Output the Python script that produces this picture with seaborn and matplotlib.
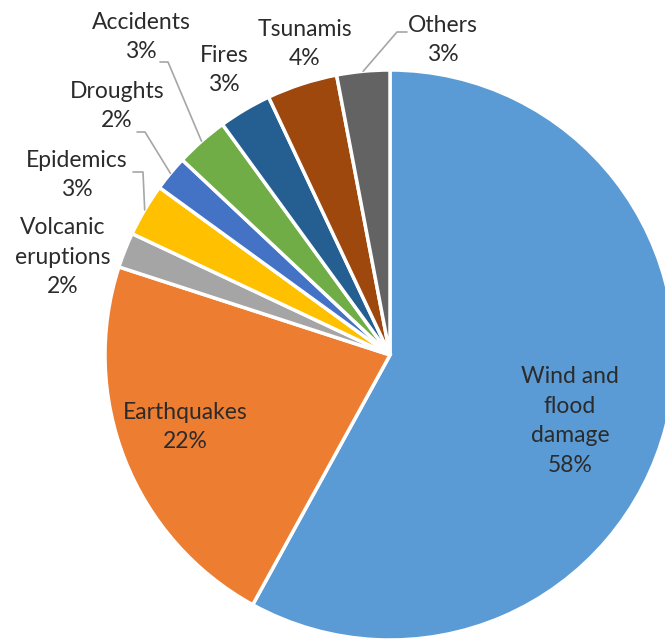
import numpy as np
import matplotlib
matplotlib.use("Agg")
import matplotlib.pyplot as plt
import seaborn as sns

# --- dados ---
categorias = ['Wind and\nflood\ndamage', 'Earthquakes', 'Volcanic\neruptions', 'Epidemics',
              'Droughts', 'Accidents', 'Fires', 'Tsunamis', 'Others']
valores = [58, 22, 2, 3, 2, 3, 3, 4, 3]
cores = ['#5B9BD5', '#ED7D31', '#A5A5A5', '#FFC000', '#4472C4',
         '#70AD47', '#255E91', '#9E480E', '#636363']

# --- layout (pixels da imagem, y para baixo) ---
W, H = 665, 640
cx, cy, R = 390, 355, 285
pos_rotulos = [(570, 421), (185, 427), (63, 257), (77, 175), (117, 106),
               (141, 37), (224, 70), (305, 44), (443, 40)]
# cotovelo das linhas guia (None = sem linha)
cotovelos = [None, None, None, [(143, 172), (133, 172)], [(145, 132), (137, 132)],
             [(168, 62), (160, 62)], None, None, [(397, 32), (407, 32)]]

sns.set_theme(style='white')
plt.rcParams['font.family'] = ['Lato', 'DejaVu Sans']

fig = plt.figure(figsize=(W / 100, H / 100), dpi=100)
ax = fig.add_axes([0, 0, 1, 1])

ax.pie(valores, colors=cores, startangle=90, counterclock=False,
       center=(cx, H - cy), radius=R,
       wedgeprops=dict(edgecolor='white', linewidth=2.5))

total = sum(valores)
acum = np.cumsum([0] + valores)
for i, cat in enumerate(categorias):
    pct = round(valores[i] / total * 100)
    x, y = pos_rotulos[i]
    ax.text(x, H - y, f'{cat}\n{pct}%', ha='center', va='center',
            fontsize=16.5, color='#2B2B2B', linespacing=1.5)
    # linha guia saindo do meio da fatia
    if cotovelos[i] is not None:
        meio = np.deg2rad((acum[i] + acum[i + 1]) / 2 / total * 360)
        x0 = cx + R * np.sin(meio)
        y0 = cy - R * np.cos(meio)
        xs = [x0] + [p[0] for p in cotovelos[i]]
        ys = [H - y0] + [H - p[1] for p in cotovelos[i]]
        ax.plot(xs, ys, color='#A6A6A6', linewidth=1.2)

ax.set_xlim(0, W)
ax.set_ylim(0, H)
ax.axis('off')

fig.savefig('out.png', dpi=100, facecolor='white')
